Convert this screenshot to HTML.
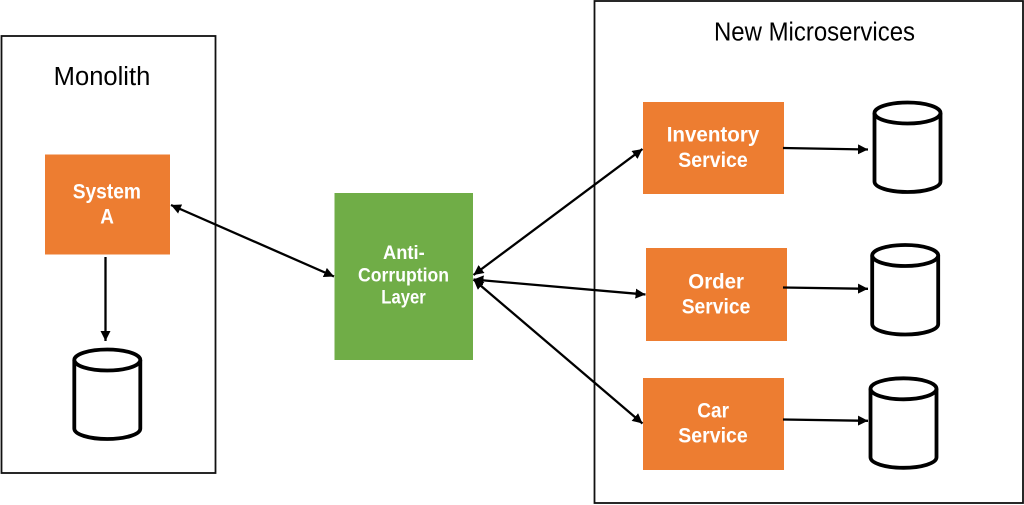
<!DOCTYPE html>
<html><head><meta charset="utf-8"><style>
html,body{margin:0;padding:0;background:#fff}
svg{display:block}
text{font-family:"Liberation Sans",sans-serif}
.t{font-size:25.500px;fill:#000}
.w{font-weight:bold;fill:#fff;font-size:21px}
.s{font-weight:bold;fill:#fff;font-size:19px}
.l{stroke:#000;stroke-width:2.300;fill:none}
.c{stroke:#000;stroke-width:3.800;fill:#fff}
</style></head><body>
<svg width="1024" height="505" viewBox="0 0 1024 505" xmlns="http://www.w3.org/2000/svg">
<defs>
<marker id="a" markerUnits="userSpaceOnUse" markerWidth="11" markerHeight="10" refX="10" refY="5" orient="auto-start-reverse"><path d="M0,0L10,5L0,10z" fill="#000"/></marker>
<g id="cyl"><path class="c" d="M0,11V79.500C0,85.500 15,90 33,90S66,85.500 66,79.500V11"/><ellipse class="c" cx="33" cy="11" rx="33" ry="10.500"/></g>
</defs>
<rect x="1.500" y="36" width="214" height="437" fill="none" stroke="#111" stroke-width="1.800"/>
<rect x="594.500" y="1" width="428.500" height="502" fill="none" stroke="#111" stroke-width="1.800"/>
<rect x="45" y="154.500" width="125" height="100" fill="#ed7d31"/>
<rect x="334.500" y="193" width="138.500" height="167" fill="#70ad47"/>
<rect x="643" y="102" width="141" height="92" fill="#ed7d31"/>
<rect x="646" y="248" width="141" height="93" fill="#ed7d31"/>
<rect x="643" y="378" width="141" height="92" fill="#ed7d31"/>
<use href="#cyl" x="74.300" y="349"/>
<use href="#cyl" x="874.500" y="102"/>
<use href="#cyl" x="872.200" y="244.500"/>
<use href="#cyl" x="870.500" y="377.800"/>
<line class="l" x1="171" y1="205" x2="334" y2="276.500" marker-start="url(#a)" marker-end="url(#a)"/>
<line class="l" x1="105.500" y1="257" x2="105.500" y2="341" marker-end="url(#a)"/>
<line class="l" x1="473.500" y1="275" x2="642.500" y2="149" marker-start="url(#a)" marker-end="url(#a)"/>
<line class="l" x1="473.500" y1="279.500" x2="645.500" y2="294.500" marker-start="url(#a)" marker-end="url(#a)"/>
<line class="l" x1="473.500" y1="279.500" x2="642.500" y2="423.500" marker-start="url(#a)" marker-end="url(#a)"/>
<line class="l" x1="783" y1="148" x2="868" y2="149.500" marker-end="url(#a)"/>
<line class="l" x1="783" y1="287.500" x2="868" y2="288.800" marker-end="url(#a)"/>
<line class="l" x1="783" y1="419.500" x2="868" y2="420.800" marker-end="url(#a)"/>
<text class="t" x="53.700" y="85" textLength="96.600" lengthAdjust="spacingAndGlyphs">Monolith</text>
<text class="t" x="714" y="40.700" textLength="201" lengthAdjust="spacingAndGlyphs">New Microservices</text>
<text class="w" x="72.700" y="198.300" textLength="68.300" lengthAdjust="spacingAndGlyphs">System</text>
<text class="w" x="100.300" y="223.300" textLength="13.700" lengthAdjust="spacingAndGlyphs">A</text>
<text class="s" x="383" y="259" textLength="41.700" lengthAdjust="spacingAndGlyphs">Anti-</text>
<text class="s" x="358" y="281.700" textLength="91" lengthAdjust="spacingAndGlyphs">Corruption</text>
<text class="s" x="381.300" y="303.500" textLength="44.400" lengthAdjust="spacingAndGlyphs">Layer</text>
<text class="w" x="666.700" y="141.700" textLength="92.600" lengthAdjust="spacingAndGlyphs">Inventory</text>
<text class="w" x="678.300" y="167" textLength="69.400" lengthAdjust="spacingAndGlyphs">Service</text>
<text class="w" x="688.300" y="288.300" textLength="55.700" lengthAdjust="spacingAndGlyphs">Order</text>
<text class="w" x="681.700" y="313.300" textLength="68.600" lengthAdjust="spacingAndGlyphs">Service</text>
<text class="w" x="697.300" y="417.700" textLength="31.700" lengthAdjust="spacingAndGlyphs">Car</text>
<text class="w" x="678.300" y="442.700" textLength="69.400" lengthAdjust="spacingAndGlyphs">Service</text>
</svg>
</body></html>
